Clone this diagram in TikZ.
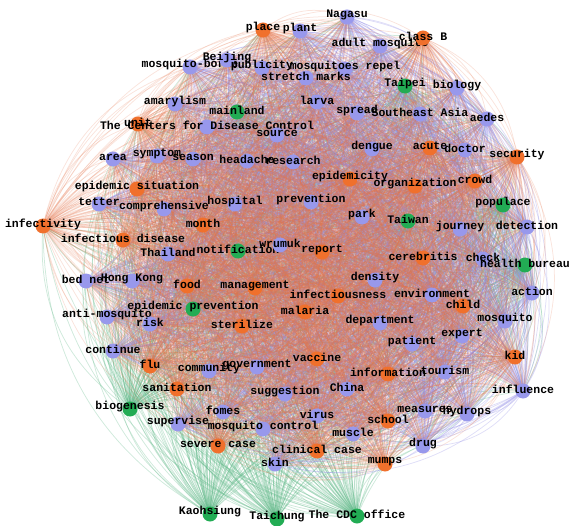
\documentclass[tikz,border=0pt]{standalone}
\usepackage{fontspec}
\usepackage{tikz}
\usetikzlibrary{backgrounds}
\newfontfamily\lblfont{Liberation Mono}
\definecolor{nblu}{RGB}{152,152,236}
\definecolor{nora}{RGB}{240,112,44}
\definecolor{ngrn}{RGB}{34,172,84}
\definecolor{eblu}{RGB}{150,145,230}
\definecolor{eora}{RGB}{228,118,78}
\definecolor{egrn}{RGB}{96,184,136}
\tikzset{
  dot/.style={circle,fill=n#1,draw=none,minimum size=15pt,inner sep=0pt},
  lbl/.style={font=\lblfont\bfseries\fontsize{11.5}{12}\selectfont,inner sep=0pt,yshift=2pt},
  edge/.style={draw=e#1,line width=0.75pt,draw opacity=0.3},
  oedge/.style={draw=eora,line width=0.75pt,draw opacity=0.2},
}
\begin{document}
\begin{tikzpicture}[x=1pt,y=-1pt]
 \useasboundingbox (0,0) rectangle (588,526);
 % nodes: name/x/y/colour/text
 \foreach \n/\x/\y/\c/\t in {
   nagasu/347/17/blu/Nagasu, place/263/30/ora/place, plant/300/31/blu/plant,
   adultm/380/46/blu/adult mosquito, classb/423/38/ora/class B,
   mborne/190/67/blu/mosquito-borne, beijing/227/60/blu/Beijing,
   public/262/68/blu/publicity, repel/345/69/blu/mosquitoes repel,
   stretch/306/78/blu/stretch marks, taipei/405/86/grn/Taipei, biology/457/88/blu/biology,
   amaryl/175/104/blu/amarylism, mainland/237/112/grn/mainland, larva/317/102/blu/larva,
   spread/357/113/blu/spread, seasia/420/114/blu/Southeast Asia, aedes/487/119/blu/aedes,
   unit/138/124/ora/unit, cdcctrl/207/127/blu/The Centers for Disease Control,
   source/277/135/blu/source, area/113/159/blu/area, symptom/157/156/blu/symptom,
   season/193/159/blu/season, headache/247/161/blu/headache, research/293/162/blu/research,
   dengue/372/149/blu/dengue, acute/430/148/ora/acute, doctor/465/150/blu/doctor,
   security/517/157/ora/security, epidty/350/179/ora/epidemicity,
   organiz/415/186/ora/organization, crowd/475/181/ora/crowd,
   episit/137/189/ora/epidemic situation, tetter/99/204/blu/tetter,
   compreh/164/209/blu/comprehensive, hospital/235/204/blu/hospital,
   prevup/311/202/blu/prevention, park/362/217/blu/park, taiwan/408/221/grn/Taiwan,
   populace/503/205/grn/populace, journey/460/229/blu/journey, detect/527/227/blu/detection,
   infectiv/43/226/ora/infectivity, month/203/225/ora/month,
   infdis/123/240/ora/infectious disease, thailand/168/254/blu/Thailand,
   notif/238/251/grn/notification, wrumuk/280/245/blu/wrumuk, report/322/252/ora/report,
   cerebr/423/258/ora/cerebritis, check/483/259/blu/check, health/525/265/grn/health bureau,
   density/375/280/blu/density, bednet/86/281/blu/bed net, hongkong/132/281/blu/Hong Kong,
   food/187/286/ora/food, manage/255/288/ora/management, infness/338/296/ora/infectiousness,
   environ/432/295/blu/environment, action/532/293/blu/action, child/463/306/ora/child,
   epiprev/193/309/grn/epidemic prevention, malaria/305/312/ora/malaria,
   antimosq/107/317/blu/anti-mosquito, risk/150/324/blu/risk, steril/242/326/ora/sterilize,
   depart/380/323/blu/department, mosqr/505/321/blu/mosquito, expert/462/336/blu/expert,
   patient/412/344/blu/patient, continue/113/351/blu/continue, flu/150/366/ora/flu,
   commun/209/371/blu/community, govern/257/367/blu/government, vaccine/317/359/ora/vaccine,
   inform/388/374/ora/information, tourism/445/372/blu/tourism, kid/515/357/ora/kid,
   influence/523/391/blu/influence, sanit/177/389/ora/sanitation,
   suggest/285/394/blu/suggestion, china/347/389/blu/China, biogen/130/409/grn/biogenesis,
   fomes/223/412/blu/fomes, measures/425/411/blu/measures, hydrops/467/414/blu/hydrops,
   virus/317/416/blu/virus, school/388/421/ora/school, supervise/178/424/blu/supervise,
   mctrl/263/429/blu/mosquito control, muscle/353/434/blu/muscle, drug/423/446/blu/drug,
   severe/218/446/ora/severe case, clinical/317/451/ora/clinical case, skin/275/464/blu/skin,
   mumps/385/464/ora/mumps, kaoh/210/514/grn/Kaohsiung, taichung/277/519/grn/Taichung,
   cdcoff/357/516/grn/The CDC office}
   \node[dot=\c,label={[lbl]center:\t}] (\n) at (\x,\y) {};
 \def\greens{taipei,mainland,taiwan,populace,notif,health,epiprev,biogen,kaoh,taichung,cdcoff}
 \def\oranges{place,classb,unit,acute,security,epidty,organiz,crowd,episit,infectiv,month,infdis,report,cerebr,food,manage,infness,child,malaria,steril,flu,vaccine,inform,kid,sanit,school,severe,clinical,mumps}
 \def\blues{nagasu,plant,adultm,mborne,beijing,public,repel,stretch,biology,amaryl,larva,spread,seasia,aedes,cdcctrl,source,area,symptom,season,headache,research,dengue,doctor,tetter,compreh,hospital,prevup,park,journey,detect,thailand,wrumuk,check,density,bednet,hongkong,environ,action,antimosq,risk,depart,mosqr,expert,patient,continue,commun,govern,tourism,influence,suggest,china,fomes,measures,hydrops,virus,supervise,mctrl,muscle,drug,skin}
 % edges: green underneath, then blue, orange on top
 \begin{scope}[on background layer]
  \foreach \a in \greens {
    \foreach \b in \blues {\draw[edge=grn] (\a.center) to[bend left=30] (\b.center);}
    \foreach \b in \oranges {\draw[edge=grn] (\a.center) to[bend left=30] (\b.center);}
  }
  \foreach \a [count=\i] in \blues
    \foreach \b [count=\j] in \blues
      {\ifnum\j>\i \draw[edge=blu] (\a.center) to[bend left=30] (\b.center);\fi}
  \foreach \a in \oranges {
    \foreach \b in \blues {\draw[oedge] (\a.center) to[bend left=30] (\b.center);}
    \foreach \b in \oranges {\ifx\a\b\else\draw[oedge] (\a.center) to[bend left=30] (\b.center);\fi}
  }
 \end{scope}
\end{tikzpicture}
\end{document}
